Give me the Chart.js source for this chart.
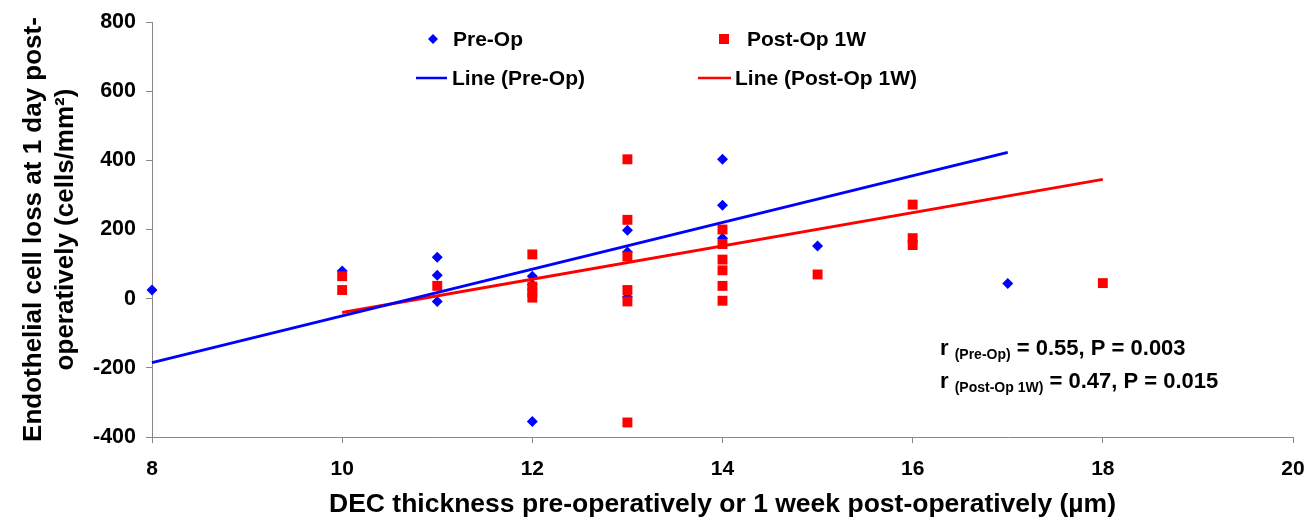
<!DOCTYPE html>
<html lang="en">
<head>
<meta charset="UTF-8">
<title>DEC thickness vs endothelial cell loss</title>
<script src="https://cdn.jsdelivr.net/npm/chart.js"></script>
<style>
  html, body { margin: 0; padding: 0; background: #fff; }
  #wrap { width: 1311px; height: 525px; }
</style>
</head>
<body>
<div id="wrap"><canvas id="scatterChart" width="1311" height="525"></canvas></div>
<script>
// Pre-Op points (thickness um, cell loss cells/mm2)
const preOpX = [8, 10, 11, 11, 11, 12, 12, 12, 13, 13, 13, 14, 14, 14, 15, 17];
const preOpY = [25, 80, 120, 68, -8, 65, 40, -355, 198, 135, 5, 403, 270, 175, 152, 44];

// Post-Op 1W points
const postOpX = [10, 10, 11, 12, 12, 12, 12, 13, 13, 13, 13, 13, 13, 14, 14, 14, 14, 14, 14, 15, 16, 16, 16, 18];
const postOpY = [65, 25, 37, 128, 35, 18, 3, 403, 228, 122, 25, -8, -358, 200, 158, 113, 82, 37, -6, 70, 272, 175, 155, 45];

// fitted lines, endpoints
const preLineX = [8, 17];
const preLineY = [-185, 423];
const postLineX = [10, 18];
const postLineY = [-40, 345];

const xTicks = { min: 8, max: 20, step: 2 };
const yTicks = { min: -400, max: 800, step: 200 };

const FONT = '"Liberation Sans", Arial, sans-serif';

function pts(xs, ys) {
    return xs.map((x, i) => ({ x: x, y: ys[i] }));
}

// legend + correlation text, drawn inside the plot like the original
const overlay = {
    id: 'overlay',
    afterDraw(chart) {
        const ctx = chart.ctx;
        ctx.save();
        ctx.fillStyle = '#000';
        ctx.textBaseline = 'middle';
        ctx.font = 'bold 21px ' + FONT;

        // diamond
        ctx.fillStyle = '#0000ff';
        ctx.beginPath();
        ctx.moveTo(433, 34); ctx.lineTo(438, 39); ctx.lineTo(433, 44); ctx.lineTo(428, 39);
        ctx.closePath(); ctx.fill();
        ctx.fillStyle = '#000';
        ctx.fillText('Pre-Op', 453, 40);

        ctx.fillStyle = '#ff0000';
        ctx.fillRect(719, 34, 10, 10);
        ctx.fillStyle = '#000';
        ctx.fillText('Post-Op 1W', 747, 40);

        ctx.lineWidth = 2.5;
        ctx.strokeStyle = '#0000ff';
        ctx.beginPath(); ctx.moveTo(416, 78); ctx.lineTo(447, 78); ctx.stroke();
        ctx.fillText('Line (Pre-Op)', 452, 79);
        ctx.strokeStyle = '#ff0000';
        ctx.beginPath(); ctx.moveTo(698, 78); ctx.lineTo(731, 78); ctx.stroke();
        ctx.fillText('Line (Post-Op 1W)', 735, 79);

        // r / P values
        ctx.textBaseline = 'alphabetic';
        const rows = [
            { sub: '(Pre-Op)', rest: ' = 0.55, P = 0.003', y: 355 },
            { sub: '(Post-Op 1W)', rest: ' = 0.47, P = 0.015', y: 388 }
        ];
        rows.forEach(r => {
            let x = 940;
            ctx.font = 'bold 22px ' + FONT;
            ctx.fillText('r', x, r.y);
            x += ctx.measureText('r ').width;
            ctx.font = 'bold 14px ' + FONT;
            ctx.fillText(r.sub, x, r.y + 4);
            x += ctx.measureText(r.sub).width;
            ctx.font = 'bold 22px ' + FONT;
            ctx.fillText(r.rest, x, r.y);
        });
        ctx.restore();
    }
};

new Chart(document.getElementById('scatterChart').getContext('2d'), {
    type: 'scatter',
    data: {
        datasets: [
            {
                label: 'Line (Pre-Op)', type: 'line', data: pts(preLineX, preLineY),
                borderColor: '#0000ff', borderWidth: 3, pointRadius: 0, fill: false, order: 0, clip: false
            },
            {
                label: 'Line (Post-Op 1W)', type: 'line', data: pts(postLineX, postLineY),
                borderColor: '#ff0000', borderWidth: 3, pointRadius: 0, fill: false, order: 1, clip: false
            },
            {
                label: 'Post-Op 1W', data: pts(postOpX, postOpY),
                pointStyle: 'rect', pointRadius: 7, backgroundColor: '#ff0000', borderColor: '#ff0000',
                borderWidth: 0, order: 2, clip: false
            },
            {
                label: 'Pre-Op', data: pts(preOpX, preOpY),
                pointStyle: 'rectRot', pointRadius: 5.5, backgroundColor: '#0000ff', borderColor: '#0000ff',
                borderWidth: 0, order: 3, clip: false
            }
        ]
    },
    options: {
        responsive: false,
        animation: false,
        layout: { padding: { top: 22, right: 18, left: 0, bottom: 0 } },
        plugins: { legend: { display: false }, tooltip: { enabled: false } },
        scales: {
            x: {
                type: 'linear', min: xTicks.min, max: xTicks.max,
                ticks: { stepSize: xTicks.step, color: '#000', font: { family: FONT, size: 21, weight: 'bold' }, padding: 14 },
                grid: { drawOnChartArea: false, drawTicks: true, tickLength: 6, color: '#888' },
                border: { color: '#888', width: 1 },
                title: {
                    display: true, text: 'DEC thickness pre-operatively or 1 week post-operatively (\u00b5m)',
                    color: '#000', font: { family: FONT, size: 26.5, weight: 'bold' }, padding: { top: 11 }
                },
                afterFit(s) { s.height = 88; s.paddingRight = 0; s.paddingLeft = 0; }
            },
            y: {
                min: yTicks.min, max: yTicks.max,
                ticks: { stepSize: yTicks.step, color: '#000', font: { family: FONT, size: 21.5, weight: 'bold' }, padding: 10 },
                grid: { drawOnChartArea: false, drawTicks: true, tickLength: 6, color: '#888' },
                border: { color: '#888', width: 1 },
                title: {
                    display: true, text: ['Endothelial cell loss at 1 day post-', 'operatively (cells/mm\u00b2)'],
                    color: '#000', font: { family: FONT, size: 26, weight: 'bold', lineHeight: 1.22 }, padding: { top: 18, bottom: 4 }
                },
                afterFit(s) { s.width = 152; s.paddingTop = 0; s.paddingBottom = 0; }
            }
        }
    },
    plugins: [overlay]
});
</script>
</body>
</html>
